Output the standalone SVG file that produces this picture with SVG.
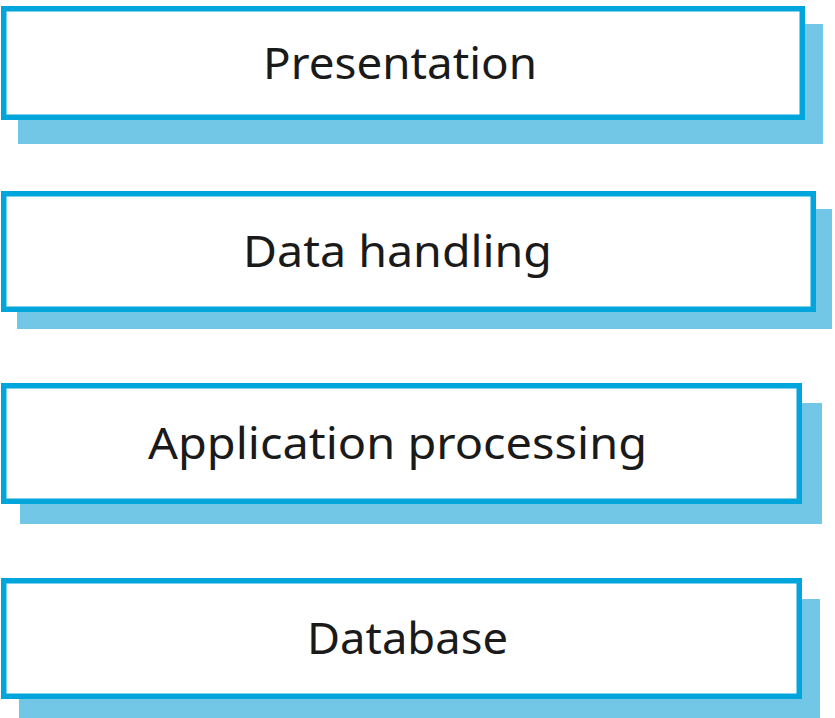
<svg xmlns="http://www.w3.org/2000/svg" width="835" height="718" viewBox="0 0 835 718">
<style>
.shadow{fill:#72C7E6}
.box{fill:#FFFFFF;stroke:#00A5DC;stroke-width:5.5}
.lbl{font-family:"Noto Sans","Open Sans","Liberation Sans",sans-serif;font-size:44px;font-weight:400;fill:#1a1a1a;text-anchor:middle}
</style>
<rect width="835" height="718" fill="#FFFFFF"/>
<g id="presentation">
<rect class="shadow" x="18" y="24" width="805" height="120"/>
<rect class="box" x="3.75" y="8.75" width="798.5" height="108.5"/>
<text class="lbl" x="400" y="79" textLength="274" lengthAdjust="spacingAndGlyphs">Presentation</text>
</g>
<g id="data-handling">
<rect class="shadow" x="17" y="209" width="815" height="120"/>
<rect class="box" x="3.75" y="193.75" width="809.5" height="115.5"/>
<text class="lbl" x="397.5" y="267" textLength="309" lengthAdjust="spacingAndGlyphs">Data handling</text>
</g>
<g id="application-processing">
<rect class="shadow" x="20" y="403" width="802" height="121"/>
<rect class="box" x="3.75" y="385.75" width="795.5" height="115.5"/>
<text class="lbl" x="397.5" y="459" textLength="499" lengthAdjust="spacingAndGlyphs">Application processing</text>
</g>
<g id="database">
<rect class="shadow" x="19" y="599" width="801" height="119"/>
<rect class="box" x="3.75" y="580.75" width="795.5" height="115.5"/>
<text class="lbl" x="407.5" y="654" textLength="201" lengthAdjust="spacingAndGlyphs">Database</text>
</g>
<g id="connectors"/>
</svg>
